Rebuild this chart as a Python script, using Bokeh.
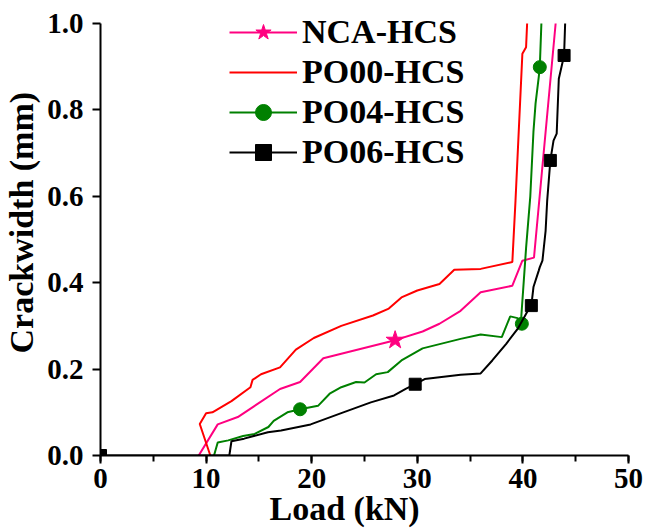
from bokeh.plotting import figure
from bokeh.models import (Range1d, SingleIntervalTicker, PrintfTickFormatter,
                          Legend, LegendItem, Title)
from bokeh.embed import file_html
from bokeh.resources import INLINE

# ---------------- data ----------------
nca_x = [9.3, 11.1, 13.0, 17.0, 18.9, 21.1, 27.9, 30.5, 32.1, 34.1, 36.0, 39.0, 39.95, 41.05, 43.1]
nca_y = [0.0, 0.072, 0.089, 0.154, 0.170, 0.225, 0.267, 0.287, 0.305, 0.335, 0.378, 0.393, 0.451, 0.458, 1.0]
nca_mx = [27.9]
nca_my = [0.267]

po00_x = [10.4, 9.4, 10.0, 10.6, 12.4, 14.2, 14.4, 15.2, 17.0, 18.5, 20.2, 22.8, 25.8, 27.3,
          28.5, 30.0, 32.1, 33.5, 36.0, 39.0, 39.3, 39.95, 40.3, 40.4]
po00_y = [0.0, 0.073, 0.098, 0.100, 0.126, 0.158, 0.175, 0.188, 0.204, 0.245, 0.272, 0.300, 0.324, 0.340,
          0.366, 0.382, 0.397, 0.430, 0.432, 0.448, 0.590, 0.930, 0.945, 1.0]

po04_x = [10.75, 11.1, 12.1, 13.5, 14.6, 15.9, 16.4, 17.7, 18.9, 20.6, 21.7, 22.8, 24.2, 25.0, 26.1,
          27.2, 28.5, 30.5, 34.1, 36.0, 38.0, 38.8, 39.5, 39.8, 40.3, 40.7, 41.0, 41.2, 41.5, 41.6, 41.75]
po04_y = [0.0, 0.030, 0.035, 0.045, 0.050, 0.066, 0.080, 0.100, 0.107, 0.115, 0.143, 0.158, 0.170, 0.169, 0.188,
          0.193, 0.220, 0.248, 0.270, 0.280, 0.274, 0.322, 0.318, 0.305, 0.480, 0.600, 0.750, 0.815, 0.876, 0.899, 1.0]
po04_mx = [18.9, 39.9, 41.6]
po04_my = [0.107, 0.305, 0.899]

po06_x = [0.0, 12.2, 12.4, 13.6, 15.85, 17.1, 19.9, 22.8, 25.6, 27.8, 28.9, 29.8, 30.7, 34.1, 36.0,
          37.1, 38.4, 39.5, 40.4, 40.8, 41.0, 41.5, 41.6, 41.85, 42.15, 42.3, 42.6, 42.9, 43.2, 43.4, 43.9, 44.0]
po06_y = [0.0, 0.0, 0.033, 0.039, 0.054, 0.058, 0.072, 0.098, 0.123, 0.139, 0.154, 0.165, 0.177, 0.187, 0.190,
          0.220, 0.258, 0.293, 0.332, 0.347, 0.390, 0.428, 0.436, 0.451, 0.520, 0.590, 0.683, 0.729, 0.745, 0.872, 0.926, 1.0]
po06_mx = [0.0, 29.8, 40.8, 42.6, 43.9]
po06_my = [0.0, 0.165, 0.347, 0.683, 0.926]

labels = ["NCA-HCS", "PO00-HCS", "PO04-HCS", "PO06-HCS"]
x_title = "Load (kN)"
y_title = "Crackwidth (mm)"

FONT = "Liberation Serif"
PINK, RED, GREEN, BLACK = "#FF0080", "#FF0000", "#008000", "#000000"

# frame: x 0..50 over px 99..628 ; y 0..1 over px 455..23 (frame extended to canvas top)
p = figure(width=645, height=529, output_backend="svg", toolbar_location=None,
           x_range=Range1d(0, 50), y_range=Range1d(0, 455.0 / 432.0),
           min_border_left=99, min_border_right=17, min_border_top=0, min_border_bottom=74)
p.outline_line_color = None
p.grid.visible = False
p.background_fill_color = "white"
p.border_fill_color = "white"

# lines + markers
l_nca = p.line(nca_x, nca_y, line_color=PINK, line_width=2)
s_nca = p.scatter(nca_mx, nca_my, marker="star", size=19, fill_color=PINK, line_color=PINK)
l_p00 = p.line(po00_x, po00_y, line_color=RED, line_width=2)
l_p04 = p.line(po04_x, po04_y, line_color=GREEN, line_width=2)
s_p04 = p.scatter(po04_mx, po04_my, marker="circle", size=13, fill_color=GREEN, line_color=GREEN)
l_p06 = p.line(po06_x, po06_y, line_color=BLACK, line_width=2)
s_p06 = p.scatter(po06_mx, po06_my, marker="square", size=12, fill_color=BLACK, line_color=BLACK)

# axes
p.xaxis.ticker = SingleIntervalTicker(interval=10, num_minor_ticks=2)
p.yaxis.ticker = SingleIntervalTicker(interval=0.2, num_minor_ticks=0)
p.yaxis.formatter = PrintfTickFormatter(format="%.1f")
p.yaxis.bounds = (0, 1)
for ax in (p.xaxis, p.yaxis):
    ax.axis_line_width = 2
    ax.axis_line_color = "black"
    ax.major_tick_line_width = 2
    ax.minor_tick_line_width = 2
    ax.major_tick_in = 0
    ax.major_tick_out = 8
    ax.minor_tick_in = 0
    ax.minor_tick_out = 6
    ax.major_label_text_font = FONT
    ax.major_label_text_font_style = "bold"
    ax.major_label_text_font_size = "29px"
    ax.major_label_text_color = "black"
p.xaxis.major_label_standoff = 5
p.yaxis.major_label_standoff = 9

# axis titles as side-panel titles (positioned like the reference)
tx = Title(text=x_title, align="left", offset=169, vertical_align="top", standoff=-2,
           text_font=FONT, text_font_size="34px", text_font_style="bold", text_color="black")
p.add_layout(tx, "below")
ty = Title(text=y_title, align="left", offset=102, vertical_align="top", standoff=5,
           text_font=FONT, text_font_size="34px", text_font_style="bold", text_color="black")
p.add_layout(ty, "left")

legend = Legend(items=[
    LegendItem(label=labels[0], renderers=[l_nca, s_nca]),
    LegendItem(label=labels[1], renderers=[l_p00]),
    LegendItem(label=labels[2], renderers=[l_p04, s_p04]),
    LegendItem(label=labels[3], renderers=[l_p06, s_p06]),
], location=(129, 283))
legend.label_text_font = FONT
legend.label_text_font_style = "bold"
legend.label_text_font_size = "34px"
legend.label_text_color = "black"
legend.glyph_width = 68
legend.glyph_height = 40
legend.label_height = 40
legend.label_standoff = 5
legend.spacing = 0
legend.padding = 0
legend.margin = 0
legend.border_line_color = None
legend.background_fill_alpha = 0
p.add_layout(legend, "center")

open("out.html", "w").write(file_html(p, INLINE))
